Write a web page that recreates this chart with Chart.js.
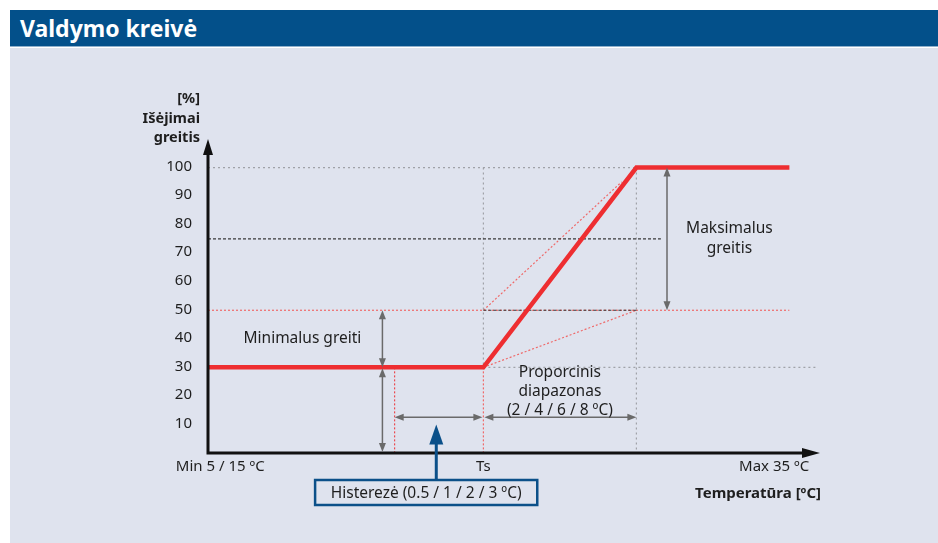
<!DOCTYPE html>
<html>
<head>
<meta charset="utf-8">
<script src="https://cdn.jsdelivr.net/npm/chart.js@4"></script>
<style>
  html, body { margin: 0; padding: 0; background: #ffffff; }
  #wrap { position: relative; width: 938px; height: 543px; overflow: hidden; background: #ffffff; }
  #header { position: absolute; left: 10px; top: 10px; width: 928px; height: 37px; background: #03508a;
            color: #ffffff; font-family: "Noto Sans", sans-serif; font-weight: bold; font-size: 23px;
            line-height: 37px; padding-left: 10px; box-sizing: border-box; border-bottom: 1px solid #8fb0cc; }
  #panel { position: absolute; left: 10px; top: 48px; width: 928px; height: 495px; background: #dfe3ee; }
  #c { position: absolute; left: 0; top: 0; }
</style>
</head>
<body>
<div id="wrap">
  <div id="header">Valdymo kreivė</div>
  <div id="panel"></div>
  <canvas id="c" width="938" height="543"></canvas>
</div>
<script>
// ---- data ----
const yTickValues = [10, 20, 30, 40, 50, 60, 70, 80, 90, 100];
const yAxisTitle = ['[%]', 'Išėjimai', 'greitis'];
const xTickLabels = ['Min 5 / 15 ºC', 'Ts', 'Max 35 ºC'];
const xTickValues = [2, 45, 92.5];
const xAxisTitle = 'Temperatūra [ºC]';

// control curve: x positions (relative temperature units) and fan speed %
const curveX = [0, 45, 70, 95];
const curveY = [30, 30, 100, 100];

// key levels and positions
const minSpeed = 30;
const midSpeed = 50;
const setSpeed = 75;
const maxSpeed = 100;
const hystX = 30.5;
const tsX = 45;
const propEndX = 70;
const curveEndX = 95;
const level30EndX = 99.5;
const level75EndX = 74;
const diagTopX = 67.6;
const diagTopY = 95;
const minArrowX = 28.5;
const maxArrowX = 75;
const spanArrowY = 12.5;
const blueArrowX = 37.3;
const blueArrowTipY = 10;

const labelMinimal = 'Minimalus greiti';
const labelMaximal = ['Maksimalus', 'greitis'];
const labelProp = ['Proporcinis', 'diapazonas', '(2 / 4 / 6 / 8 ºC)'];
const labelHyst = 'Histerezė (0.5 / 1 / 2 / 3 ºC)';

// ---- styles ----
const FONT = '"Noto Sans", sans-serif';
const RED = '#ee2e31';
const RED_DOT = '#ef6a6a';
const GRAY_DOT = '#a0a2a8';
const DARK_DASH = '#3a3a3a';
const ARROW_GRAY = '#6a6a6a';
const BLUE = '#0b5089';
const TXT = '#1e1e1e';
const PANEL = '#dfe3ee';

function seg(x1, y1, x2, y2) { return [{x: x1, y: y1}, {x: x2, y: y2}]; }
function lineDs(data, color, width, dash) {
  return { data, borderColor: color, borderWidth: width, borderDash: dash || [], pointRadius: 0,
           showLine: true, fill: false, tension: 0 };
}

const datasets = [
  lineDs(curveX.map((x, i) => ({x, y: curveY[i]})), RED, 4.5),
  lineDs(seg(0, maxSpeed, propEndX, maxSpeed), GRAY_DOT, 1.2, [2, 3]),
  lineDs(seg(0, setSpeed, level75EndX, setSpeed), DARK_DASH, 1.2, [3, 2]),
  lineDs(seg(tsX, midSpeed, propEndX, midSpeed), DARK_DASH, 1.2, [3, 2]),
  lineDs(seg(0, midSpeed, curveEndX, midSpeed), RED_DOT, 1.2, [2, 2]),
  lineDs(seg(tsX, minSpeed, level30EndX, minSpeed), GRAY_DOT, 1.2, [2, 3]),
  lineDs(seg(tsX, maxSpeed, tsX, minSpeed), GRAY_DOT, 1.2, [2, 3]),
  lineDs(seg(tsX, minSpeed, tsX, 0), RED_DOT, 1.2, [2, 2]),
  lineDs(seg(propEndX, maxSpeed, propEndX, 0), GRAY_DOT, 1.2, [2, 3]),
  lineDs(seg(hystX, minSpeed, hystX, 0), RED, 1, [2, 2]),
  lineDs(seg(tsX, midSpeed, diagTopX, diagTopY), RED_DOT, 1.2, [2, 2]),
  lineDs(seg(tsX, minSpeed, propEndX, midSpeed), RED_DOT, 1.2, [2, 2])
];

function arrowHead(ctx, x, y, ang, len, half, color) {
  ctx.save();
  ctx.translate(x, y);
  ctx.rotate(ang);
  ctx.beginPath();
  ctx.moveTo(0, 0);
  ctx.lineTo(-len, -half);
  ctx.lineTo(-len, half);
  ctx.closePath();
  ctx.fillStyle = color;
  ctx.fill();
  ctx.restore();
}

function dblArrow(ctx, x1, y1, x2, y2, color) {
  const ang = Math.atan2(y2 - y1, x2 - x1);
  const len = 9, half = 3.5;
  ctx.save();
  ctx.strokeStyle = color;
  ctx.lineWidth = 1.5;
  ctx.beginPath();
  ctx.moveTo(x1 + Math.cos(ang) * len * 0.8, y1 + Math.sin(ang) * len * 0.8);
  ctx.lineTo(x2 - Math.cos(ang) * len * 0.8, y2 - Math.sin(ang) * len * 0.8);
  ctx.stroke();
  ctx.restore();
  arrowHead(ctx, x2, y2, ang, len, half, color);
  arrowHead(ctx, x1, y1, ang + Math.PI, len, half, color);
}

function text(ctx, s, x, y, align, font, color) {
  ctx.save();
  ctx.font = font;
  ctx.fillStyle = color || TXT;
  ctx.textAlign = align;
  ctx.textBaseline = 'middle';
  ctx.fillText(s, x, y);
  ctx.restore();
}

const overlay = {
  id: 'overlay',
  afterDatasetsDraw(chart) {
    const ctx = chart.ctx;
    const xs = chart.scales.x, ys = chart.scales.y;
    const X = v => xs.getPixelForValue(v);
    const Y = v => ys.getPixelForValue(v);
    const x0 = X(0), y0 = Y(0);
    const xEnd = X(xs.max), yTop = Y(ys.max);

    // axes
    ctx.save();
    ctx.strokeStyle = '#111111';
    ctx.lineWidth = 3;
    ctx.beginPath();
    ctx.moveTo(x0, y0 + 1.5);
    ctx.lineTo(x0, yTop + 12);
    ctx.moveTo(x0 - 1.5, y0);
    ctx.lineTo(xEnd - 14, y0);
    ctx.stroke();
    ctx.restore();
    arrowHead(ctx, x0, yTop, -Math.PI / 2, 16, 5, '#111111');
    arrowHead(ctx, xEnd, y0, 0, 18, 5, '#111111');

    // y ticks
    const tickFont = '15px ' + FONT;
    yTickValues.forEach(v => text(ctx, String(v), x0 - 16, Y(v) - 1, 'right', tickFont));
    // y title
    const bold = 'bold 14.5px ' + FONT;
    yAxisTitle.forEach((s, i) => text(ctx, s, x0 - 8, yTop - 40 + i * 19.5, 'right', bold));

    // x tick labels
    xTickLabels.forEach((s, i) => text(ctx, s, X(xTickValues[i]), y0 + 14, 'center', tickFont));
    // x title
    text(ctx, xAxisTitle, xEnd + 1, y0 + 41, 'right', 'bold 15px ' + FONT);

    // gray double arrows
    dblArrow(ctx, X(minArrowX), Y(midSpeed), X(minArrowX), Y(minSpeed), ARROW_GRAY);
    dblArrow(ctx, X(minArrowX), Y(minSpeed) + 1, X(minArrowX), y0 - 1, ARROW_GRAY);
    dblArrow(ctx, X(maxArrowX), Y(maxSpeed), X(maxArrowX), Y(midSpeed), ARROW_GRAY);
    dblArrow(ctx, X(hystX), Y(spanArrowY), X(tsX) - 1, Y(spanArrowY), ARROW_GRAY);
    dblArrow(ctx, X(tsX) + 1, Y(spanArrowY), X(propEndX), Y(spanArrowY), ARROW_GRAY);

    // annotation texts
    const f = '15.5px ' + FONT;
    text(ctx, labelMinimal, X(5.8), Y(40), 'left', f);
    labelMaximal.forEach((s, i) => text(ctx, s, X(85.2), Y(78.5) + i * 19.5, 'center', f));
    labelProp.forEach((s, i) => text(ctx, s, X(57.5), Y(28) + i * 19, 'center', f));

    // hysteresis box + blue arrow
    const bx = X(blueArrowX);
    const boxL = X(17.5), boxR = X(53.8), boxT = y0 + 27, boxB = y0 + 52;
    ctx.save();
    ctx.strokeStyle = BLUE;
    ctx.lineWidth = 3;
    ctx.beginPath();
    ctx.moveTo(bx, boxT);
    ctx.lineTo(bx, Y(blueArrowTipY) + 16);
    ctx.stroke();
    ctx.fillStyle = PANEL;
    ctx.fillRect(boxL, boxT, boxR - boxL, boxB - boxT);
    ctx.lineWidth = 2.5;
    ctx.strokeRect(boxL, boxT, boxR - boxL, boxB - boxT);
    ctx.restore();
    arrowHead(ctx, bx, Y(blueArrowTipY), -Math.PI / 2, 20, 7, BLUE);
    text(ctx, labelHyst, (boxL + boxR) / 2, (boxT + boxB) / 2 + 1, 'center', f);
  }
};

new Chart(document.getElementById('c'), {
  type: 'scatter',
  data: { datasets },
  options: {
    responsive: false,
    animation: false,
    layout: { padding: { left: 208, right: 118, top: 139, bottom: 90 } },
    plugins: { legend: { display: false }, tooltip: { enabled: false }, title: { display: false } },
    scales: {
      x: { type: 'linear', min: 0, max: 100, display: false },
      y: { type: 'linear', min: 0, max: 110, display: false }
    },
    elements: { line: { borderCapStyle: 'butt', borderJoinStyle: 'miter' } }
  },
  plugins: [overlay]
});
</script>
</body>
</html>
